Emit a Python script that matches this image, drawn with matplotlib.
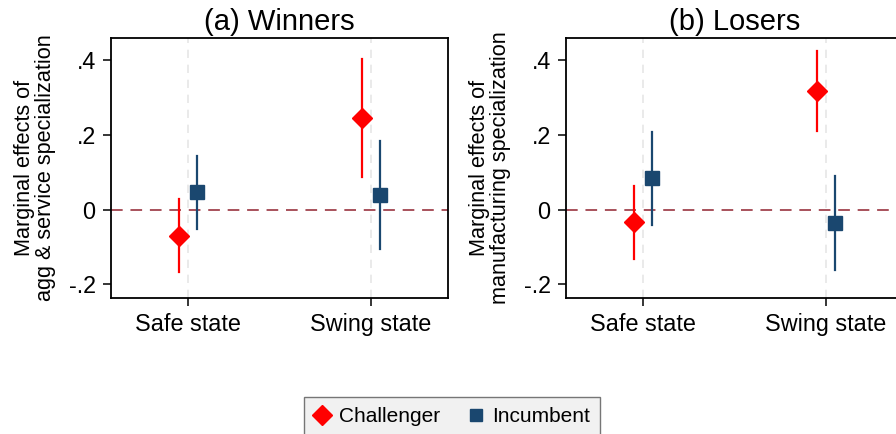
import matplotlib
matplotlib.use("Agg")
import matplotlib.pyplot as plt
from matplotlib.lines import Line2D

plt.rcParams['font.family'] = ['Liberation Sans', 'DejaVu Sans']

categories = ["Safe state", "Swing state"]
series = ["Challenger", "Incumbent"]

# Panel (a) Winners
a_chal = [-0.070, 0.245]
a_chal_lo = [-0.166, 0.087]
a_chal_hi = [0.028, 0.404]
a_inc = [0.047, 0.039]
a_inc_lo = [-0.052, -0.106]
a_inc_hi = [0.144, 0.185]

# Panel (b) Losers
b_chal = [-0.034, 0.319]
b_chal_lo = [-0.132, 0.212]
b_chal_hi = [0.064, 0.426]
b_inc = [0.084, -0.036]
b_inc_lo = [-0.041, -0.162]
b_inc_hi = [0.208, 0.091]

yticks = [-0.2, 0, 0.2, 0.4]
yticklabels = ["-.2", "0", ".2", ".4"]

RED = "#ff0000"
NAVY = "#1a476f"

fig = plt.figure(figsize=(8.96, 4.34), dpi=100)
ax1 = fig.add_axes([111/896, 1-298/434, 337/896, 260/434])
ax2 = fig.add_axes([566/896, 1-298/434, 337/896, 260/434])

def panel(ax, title, ylabel, chal, clo, chi, inc, ilo, ihi):
    x = [1, 2]
    for xi in x:
        ax.axvline(xi, color="#e6e6e6", lw=1.2, ls=(0, (5, 4)), zorder=0)
    ax.axhline(0, color="#a8515b", lw=1.4, ls=(0, (6, 4)), zorder=1)
    off = 0.05
    for i, xi in enumerate(x):
        ax.plot([xi - off, xi - off], [clo[i], chi[i]], color=RED, lw=1.6, zorder=2)
        ax.plot([xi + off, xi + off], [ilo[i], ihi[i]], color=NAVY, lw=1.6, zorder=2)
    ax.plot([xi - off for xi in x], chal, ls="none", marker="D", ms=10, color=RED, zorder=3)
    ax.plot([xi + off for xi in x], inc, ls="none", marker="s", ms=10.5, color=NAVY, zorder=3)
    ax.set_xlim(0.58, 2.42)
    ax.set_ylim(-0.237, 0.46)
    ax.set_xticks(x)
    ax.set_xticklabels(categories, fontsize=16.8)
    ax.set_yticks(yticks)
    ax.set_yticklabels(yticklabels, fontsize=16.8)
    ax.tick_params(direction="out", length=6, width=1.1, pad=5)
    for s in ax.spines.values():
        s.set_linewidth(1.3)
    ax.set_title(title, fontsize=21, pad=6)
    ax.set_ylabel(ylabel, fontsize=15.6, linespacing=1.0, labelpad=9)

panel(ax1, "(a) Winners", "Marginal effects of\nagg & service specialization",
      a_chal, a_chal_lo, a_chal_hi, a_inc, a_inc_lo, a_inc_hi)
panel(ax2, "(b) Losers", "Marginal effects of\nmanufacturing specialization",
      b_chal, b_chal_lo, b_chal_hi, b_inc, b_inc_lo, b_inc_hi)

handles = [
    Line2D([], [], ls="none", marker="D", ms=10, color=RED),
    Line2D([], [], ls="none", marker="s", ms=9, color=NAVY),
]
leg = fig.legend(handles, series, loc="center", bbox_to_anchor=(452/896, 1-417/434),
                 ncol=2, fontsize=15, frameon=True, fancybox=False,
                 handlelength=0.8, handletextpad=0.4, columnspacing=1.3,
                 borderpad=0.5, borderaxespad=0)
leg.get_frame().set_facecolor("#eeeeee")
leg.get_frame().set_edgecolor("#555555")
leg.get_frame().set_linewidth(1.0)

fig.savefig("out.png", dpi=100, facecolor="white")
